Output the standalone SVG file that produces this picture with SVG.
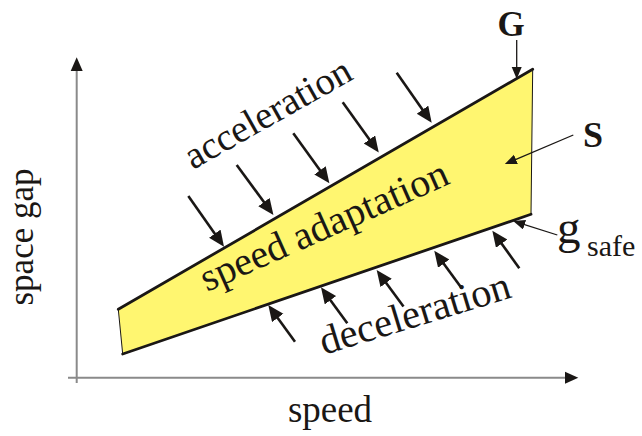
<svg xmlns="http://www.w3.org/2000/svg" width="642" height="436" viewBox="0 0 642 436">
<style>
text{font-family:'Liberation Serif','Times New Roman','DejaVu Serif',serif;fill:#1a1715}
.b{font-weight:bold}
.axis{stroke:#8a8a8a;stroke-width:2;fill:none}
.big{stroke:#1a1715;stroke-width:2.6;fill:none}
.thin{stroke:#1a1715;stroke-width:1.3;fill:none}
.edge{stroke:#1a1715;stroke-width:2.8;fill:none;stroke-linecap:round}
</style>
<defs>
<marker id="ah" markerUnits="userSpaceOnUse" markerWidth="20" markerHeight="16" refX="8" refY="7" orient="auto">
<path d="M0,0 L16,7 L0,14 Z" fill="#1a1715"/>
</marker>
<marker id="as" markerUnits="userSpaceOnUse" markerWidth="16" markerHeight="12" refX="5" refY="5" orient="auto">
<path d="M0,0 L12,5 L0,10 Z" fill="#1a1715"/>
</marker>
</defs>
<g id="axes">
<line class="axis" x1="76.7" y1="383" x2="76.7" y2="69"/>
<path d="M76.7,57.3 L82.7,71 L70.7,71 Z" fill="#1a1715"/>
<line class="axis" x1="68" y1="377.7" x2="567" y2="377.7"/>
<path d="M578.3,377.7 L565,371.7 L565,383.7 Z" fill="#1a1715"/>
</g>
<g id="region">
<path d="M118.3,309.3 L532.7,69.3 L531,214.3 L122.7,354 Z" fill="#fff670" stroke="#1a1715" stroke-width="1"/>
<line class="edge" x1="118.3" y1="309.3" x2="532.7" y2="69.3"/>
<line class="edge" x1="122.7" y1="354" x2="531" y2="214.3"/>
<text font-size="40" transform="translate(207,292) rotate(-24)">speed adaptation</text>
</g>
<g id="connectors">
<line class="big" x1="188.3" y1="196" x2="219.4" y2="240.2" marker-end="url(#ah)"/>
<line class="big" x1="236.7" y1="165" x2="268.7" y2="208.5" marker-end="url(#ah)"/>
<line class="big" x1="293.3" y1="133.3" x2="324.7" y2="176.8" marker-end="url(#ah)"/>
<line class="big" x1="342.7" y1="102.3" x2="374.1" y2="146" marker-end="url(#ah)"/>
<line class="big" x1="396.7" y1="72.7" x2="427.1" y2="116.2" marker-end="url(#ah)"/>
<line class="big" x1="295" y1="341.7" x2="273" y2="311.5" marker-end="url(#ah)"/>
<line class="big" x1="347.3" y1="323.3" x2="325.7" y2="293.8" marker-end="url(#ah)"/>
<line class="big" x1="403.5" y1="306.5" x2="381.4" y2="276.5" marker-end="url(#ah)"/>
<line class="big" x1="461.7" y1="288.3" x2="439" y2="257.2" marker-end="url(#ah)"/>
<line class="big" x1="519.3" y1="268.3" x2="497" y2="237.2" marker-end="url(#ah)"/>
<line class="thin" x1="516.7" y1="40" x2="516.7" y2="72" marker-end="url(#as)"/>
<line class="thin" x1="573.3" y1="135" x2="511.3" y2="161.3" marker-end="url(#as)"/>
<line class="thin" x1="557.3" y1="235" x2="519.8" y2="223.2" marker-end="url(#as)"/>
</g>
<g id="acceleration">
<text font-size="38.5" transform="translate(193,170) rotate(-29.5)">acceleration</text>
</g>
<g id="deceleration">
<text font-size="40.5" transform="translate(324,355) rotate(-17)">deceleration</text>
</g>
<g id="label-G"><text class="b" font-size="35" x="511" y="36" text-anchor="middle">G</text></g>
<g id="label-S"><text class="b" font-size="36" x="583" y="147">S</text></g>
<g id="label-gsafe"><text x="557" y="243"><tspan font-size="47">g</tspan><tspan font-size="30" x="587" y="256">safe</tspan></text></g>
<g id="label-speed"><text font-size="37" x="330" y="422" text-anchor="middle">speed</text></g>
<g id="label-spacegap"><text font-size="35" transform="translate(33,237) rotate(-90)" text-anchor="middle">space gap</text></g>
</svg>
